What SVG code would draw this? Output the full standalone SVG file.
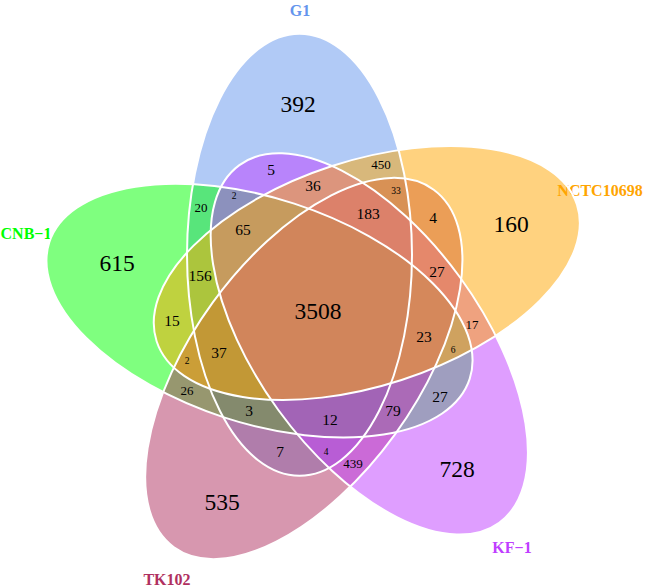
<svg xmlns="http://www.w3.org/2000/svg" width="645" height="587" viewBox="0 0 645 587">
<style>
.fill{fill-opacity:0.5;stroke:none}
.outline{fill:none;stroke:#ffffff;stroke-width:2}
.num{font-family:"Liberation Serif","Times New Roman",serif;fill:#000;text-anchor:middle}
.big{font-size:23.5px}
.mid{font-size:15.5px}
.sm{font-size:13px}
.tiny{font-size:9.5px}
.lab{font-family:"Liberation Serif","Times New Roman",serif;font-weight:bold;font-size:16px;text-anchor:middle}
</style>
<defs>
<ellipse id="shape-g1" cx="0" cy="0" rx="221" ry="112.5" transform="translate(299.5 254.8) rotate(-90)"/>
<ellipse id="shape-nctc" cx="0" cy="0" rx="221" ry="112.5" transform="translate(366.8 273.0) rotate(-18)"/>
<ellipse id="shape-kf" cx="0" cy="0" rx="221" ry="112.5" transform="translate(369.3 343.9) rotate(54)"/>
<ellipse id="shape-tk" cx="0" cy="0" rx="221" ry="112.5" transform="translate(303.8 368.5) rotate(126)"/>
<ellipse id="shape-cnb" cx="0" cy="0" rx="221" ry="112.5" transform="translate(259.5 310.6) rotate(-162)"/>
</defs>
<rect width="645" height="587" fill="#ffffff"/>
<g id="set-g1">
<use href="#shape-g1" class="fill" fill="#6495ED"/>
<text class="lab" x="300" y="15.5" fill="#6495ED">G1</text>
</g>
<g id="set-cnb1">
<use href="#shape-cnb" class="fill" fill="#00FF00"/>
<text class="lab" x="26" y="238.5" fill="#00FF00">CNB−1</text>
</g>
<g id="set-tk102">
<use href="#shape-tk" class="fill" fill="#B03060"/>
<text class="lab" x="167" y="584.5" fill="#B03060">TK102</text>
</g>
<g id="set-kf1">
<use href="#shape-kf" class="fill" fill="#BF3EFF"/>
<text class="lab" x="512" y="552.5" fill="#BF3EFF">KF−1</text>
</g>
<g id="set-nctc10698">
<use href="#shape-nctc" class="fill" fill="#FFA500"/>
<text class="lab" x="600" y="196" fill="#FFA500">NCTC10698</text>
</g>
<g id="connectors">
<use href="#shape-g1" class="outline"/>
<use href="#shape-cnb" class="outline"/>
<use href="#shape-tk" class="outline"/>
<use href="#shape-kf" class="outline"/>
<use href="#shape-nctc" class="outline"/>
</g>
<g id="counts">
<text class="num big" x="298" y="111.5">392</text>
<text class="num big" x="511" y="231.5">160</text>
<text class="num big" x="457" y="476.5">728</text>
<text class="num big" x="222" y="510">535</text>
<text class="num big" x="117" y="271">615</text>
<text class="num big" x="318" y="318.5">3508</text>
<text class="num mid" x="271" y="174.8">5</text>
<text class="num sm" x="381" y="168.5">450</text>
<text class="num mid" x="313" y="190.5">36</text>
<text class="num tiny" x="396" y="194">33</text>
<text class="num tiny" x="234" y="199.3">2</text>
<text class="num sm" x="201" y="211.8">20</text>
<text class="num mid" x="368" y="218.8">183</text>
<text class="num mid" x="433" y="222.8">4</text>
<text class="num mid" x="243" y="234.8">65</text>
<text class="num mid" x="200" y="280.5">156</text>
<text class="num mid" x="437" y="276.5">27</text>
<text class="num mid" x="172" y="325.5">15</text>
<text class="num mid" x="424" y="342.2">23</text>
<text class="num sm" x="472" y="329">17</text>
<text class="num tiny" x="453" y="352.6">6</text>
<text class="num tiny" x="187" y="364">2</text>
<text class="num mid" x="219" y="358.2">37</text>
<text class="num sm" x="187" y="394.5">26</text>
<text class="num mid" x="440" y="402.2">27</text>
<text class="num mid" x="249" y="416.2">3</text>
<text class="num mid" x="393" y="416.2">79</text>
<text class="num mid" x="330" y="424.5">12</text>
<text class="num mid" x="280" y="456.5">7</text>
<text class="num tiny" x="326" y="455">4</text>
<text class="num sm" x="353" y="467.8">439</text>
</g>
</svg>
